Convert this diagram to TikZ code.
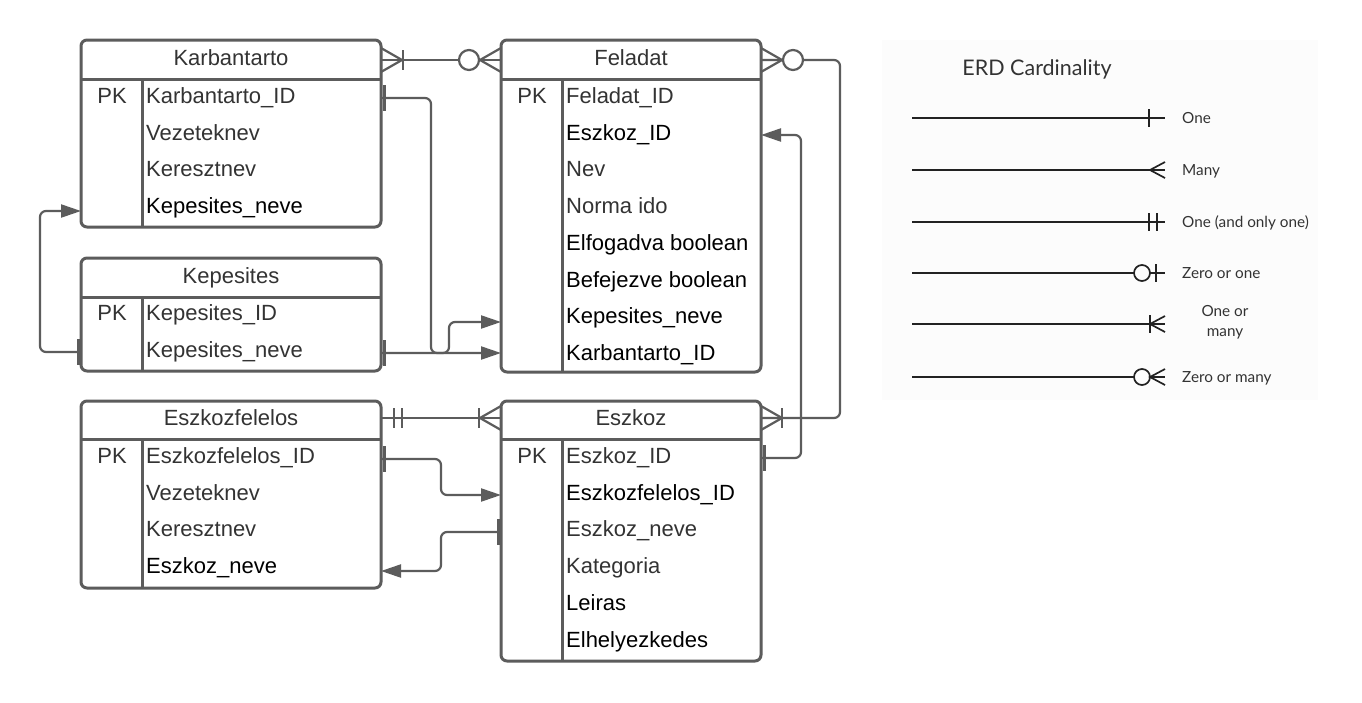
\documentclass[tikz,border=0pt]{standalone}
\usepackage{fontspec}
\setmainfont{Liberation Sans}
\newfontfamily\legfont{Lato}
\usetikzlibrary{arrows.meta}
\definecolor{ln}{HTML}{5C5C5C}
\definecolor{tx}{HTML}{333333}
\definecolor{legbg}{HTML}{FCFCFC}
\definecolor{legln}{HTML}{222222}
\newcommand\fs{\fontsize{22}{26}\selectfont}
\newcommand\erbox[5]{%
  \draw[box] (#1,#3) rectangle (#2,#4);
  \draw[sep] (#1,#5) -- (#2,#5);
  \draw[sep] ({#1+61},#5) -- ({#1+61},#4);}
\tikzset{
  box/.style={draw=ln, line width=3pt, rounded corners=6pt},
  sep/.style={draw=ln, line width=3pt},
  conn/.style={draw=ln, line width=2.2pt, rounded corners=6pt},
  arr/.style={-{Triangle[length=20pt,width=13pt]}},
  mk/.style={draw=ln, line width=2.2pt},
  barmk/.style={draw=ln, line width=3pt},
  attr/.style={anchor=base west, inner sep=0pt, font=\fs, text=tx},
  attrb/.style={attr, text=black},
  pk/.style={anchor=base, inner sep=0pt, font=\fs, text=tx},
  head/.style={anchor=base, inner sep=0pt, font=\fs, text=tx},
  crow/.pic={\draw[mk] (0,-12) -- (21,0) -- (0,12);},
  bar/.pic={\draw[mk] (#1,-10) -- (#1,10);},
  ring/.pic={\draw[mk, fill=white] (#1,0) circle[radius=10];},
  kbar/.pic={\draw[barmk] (3,-13) -- (3,13);},
  lgl/.style={draw=legln, line width=1.7pt},
  lgt/.style={anchor=base west, inner sep=0pt, font=\legfont\fontsize{15.3}{18}\selectfont, text=tx},
}
\begin{document}
\begin{tikzpicture}[x=1pt,y=-1pt]
\useasboundingbox (0,0) rectangle (1362,702);
\fill[white] (0,0) rectangle (1362,702);

% ---------------- legend ----------------
\fill[legbg] (882,40) rectangle (1318,400);
\node[anchor=base, inner sep=0pt, font=\legfont\fontsize{21.5}{26}\selectfont, text=tx] (legtitle) at (1037,75) {ERD Cardinality};
\coordinate (l1a) at (912,118); \coordinate (l1b) at (1165,118);
\coordinate (l2a) at (912,170); \coordinate (l2b) at (1165,170);
\coordinate (l3a) at (912,222); \coordinate (l3b) at (1165,222);
\coordinate (l4a) at (912,273); \coordinate (l4b) at (1165,273);
\coordinate (l5a) at (912,324); \coordinate (l5b) at (1165,324);
\coordinate (l6a) at (912,377); \coordinate (l6b) at (1165,377);
\draw[lgl] (l1a) -- (l1b);
\draw[lgl] ([xshift=-16pt]l1b) ++(0,-9) -- ++(0,18);
\draw[lgl] (l2a) -- (l2b);
\draw[lgl] ([xshift=0pt,yshift=8pt]l2b) -- ([xshift=-15pt]l2b) -- ([yshift=-8pt]l2b);
\draw[lgl] (l3a) -- (l3b);
\draw[lgl] ([xshift=-16pt]l3b) ++(0,-9) -- ++(0,18);
\draw[lgl] ([xshift=-8pt]l3b) ++(0,-9) -- ++(0,18);
\draw[lgl] (l4a) -- (l4b);
\draw[lgl, fill=legbg] ([xshift=-23pt]l4b) circle[radius=8];
\draw[lgl] ([xshift=-9pt]l4b) ++(0,-9) -- ++(0,18);
\draw[lgl] (l5a) -- (l5b);
\draw[lgl] ([xshift=-15pt]l5b) ++(0,-9) -- ++(0,18);
\draw[lgl] ([yshift=8pt]l5b) -- ([xshift=-15pt]l5b) -- ([yshift=-8pt]l5b);
\draw[lgl] (l6a) -- (l6b);
\draw[lgl, fill=legbg] ([xshift=-23pt]l6b) circle[radius=8];
\draw[lgl] ([yshift=8pt]l6b) -- ([xshift=-15pt]l6b) -- ([yshift=-8pt]l6b);
\node[lgt] (lg1) at (1182,123) {One};
\node[lgt] (lg2) at (1182,175) {Many};
\node[lgt] (lg3) at (1182,227) {One (and only one)};
\node[lgt] (lg4) at (1182,278) {Zero or one};
\node[lgt, anchor=base] (lg5a) at (1225,316) {One or};
\node[lgt, anchor=base] (lg5b) at (1225,336) {many};
\node[lgt] (lg6) at (1182,382) {Zero or many};

% ---------------- connectors ----------------
\coordinate (kbHR) at (381,60);
\coordinate (feHL) at (501,60);
\coordinate (feHR) at (761,60);
\coordinate (ezHR) at (761,418);
\coordinate (ezHL) at (501,418);
\coordinate (efHR) at (381,418);
\coordinate (kbR1) at (381,98);
\coordinate (kbL4) at (81,211);
\coordinate (kpR2) at (381,353);
\coordinate (kpL2) at (81,352);
\coordinate (feR2) at (761,135);
\coordinate (feL7) at (501,322);
\coordinate (feL8) at (501,353);
\coordinate (ezR1) at (761,458);
\coordinate (ezL2) at (501,495);
\coordinate (ezL3) at (501,532);
\coordinate (efR1) at (381,459);
\coordinate (efR4) at (381,571);

% Karbantarto -- Feladat
\draw[conn] (kbHR) -- (feHL);
\path (kbHR) pic{crow} pic{bar=22};
\path (feHL) pic[xscale=-1]{crow} pic[xscale=-1]{ring=32};
% Feladat -- Eszkoz
\draw[conn] (feHR) -- ([xshift=79pt]feHR) |- (ezHR);
\path (feHR) pic{crow} pic{ring=32};
\path (ezHR) pic{crow} pic{bar=21};
% Eszkoz_ID -> Feladat.Eszkoz_ID
\draw[conn, arr] (ezR1) -- ([xshift=40pt]ezR1) |- (feR2);
\path (ezR1) pic{kbar};
% Karbantarto_ID -> Feladat.Karbantarto_ID
\draw[conn, arr] (kbR1) -- ([xshift=50pt]kbR1) |- (feL8);
\path (kbR1) pic{kbar};
% Kepesites_neve -> Feladat.Kepesites_neve
\draw[conn, arr] (kpR2) -- ([xshift=68pt]kpR2) |- (feL7);
\path (kpR2) pic{kbar};
% Kepesites_neve -> Karbantarto.Kepesites_neve
\draw[conn, arr] (kpL2) -- ([xshift=-41pt]kpL2) |- (kbL4);
\path (kpL2) pic[xscale=-1]{kbar};
% Eszkozfelelos -- Eszkoz
\draw[conn] (efHR) -- (ezHL);
\path (efHR) pic{bar=13} pic{bar=21};
\path (ezHL) pic[xscale=-1]{crow} pic[xscale=-1]{bar=22};
% Eszkozfelelos_ID -> Eszkoz.Eszkozfelelos_ID
\draw[conn, arr] (efR1) -- ([xshift=60pt]efR1) |- (ezL2);
\path (efR1) pic{kbar};
% Eszkoz_neve -> Eszkozfelelos.Eszkoz_neve
\draw[conn, arr] (ezL3) -- ([xshift=-60pt]ezL3) |- (efR4);
\path (ezL3) pic[xscale=-1]{kbar};

% ---------------- entities ----------------
\erbox{81}{381}{40}{227}{79}
\node[head] (kbT) at (231,65.5) {Karbantarto};
\node[pk] (kbPK) at (112,103.5) {PK};
\node[attr] (kb1) at (146,103.5) {Karbantarto\_ID};
\node[attr] (kb2) at (146,140.2) {Vezeteknev};
\node[attr] (kb3) at (146,176.9) {Keresztnev};
\node[attrb] (kb4) at (146,213.6) {Kepesites\_neve};

\erbox{81}{381}{258}{371}{297}
\node[head] (kpT) at (231,283.5) {Kepesites};
\node[pk] (kpPK) at (112,320.5) {PK};
\node[attr] (kp1) at (146,320.5) {Kepesites\_ID};
\node[attr] (kp2) at (146,357.2) {Kepesites\_neve};

\erbox{81}{381}{401}{588}{439}
\node[head] (efT) at (231,425.5) {Eszkozfelelos};
\node[pk] (efPK) at (112,463.5) {PK};
\node[attr] (ef1) at (146,463.5) {Eszkozfelelos\_ID};
\node[attr] (ef2) at (146,500.2) {Vezeteknev};
\node[attr] (ef3) at (146,536.9) {Keresztnev};
\node[attrb] (ef4) at (146,573.6) {Eszkoz\_neve};

\erbox{501}{761}{40}{372}{79}
\node[head] (feT) at (631,65.5) {Feladat};
\node[pk] (fePK) at (532,103.5) {PK};
\node[attr] (fe1) at (566,103.5) {Feladat\_ID};
\node[attrb] (fe2) at (566,140.2) {Eszkoz\_ID};
\node[attr] (fe3) at (566,176.9) {Nev};
\node[attr] (fe4) at (566,213.6) {Norma ido};
\node[attrb] (fe5) at (566,250.3) {Elfogadva boolean};
\node[attrb] (fe6) at (566,287) {Befejezve boolean};
\node[attrb] (fe7) at (566,323.7) {Kepesites\_neve};
\node[attrb] (fe8) at (566,360.4) {Karbantarto\_ID};

\erbox{501}{761}{401}{661}{439}
\node[head] (ezT) at (631,425.5) {Eszkoz};
\node[pk] (ezPK) at (532,463.5) {PK};
\node[attr] (ez1) at (566,463.5) {Eszkoz\_ID};
\node[attrb] (ez2) at (566,500.2) {Eszkozfelelos\_ID};
\node[attr] (ez3) at (566,536.9) {Eszkoz\_neve};
\node[attr] (ez4) at (566,573.6) {Kategoria};
\node[attrb] (ez5) at (566,610.3) {Leiras};
\node[attrb] (ez6) at (566,647) {Elhelyezkedes};
\end{tikzpicture}
\end{document}
